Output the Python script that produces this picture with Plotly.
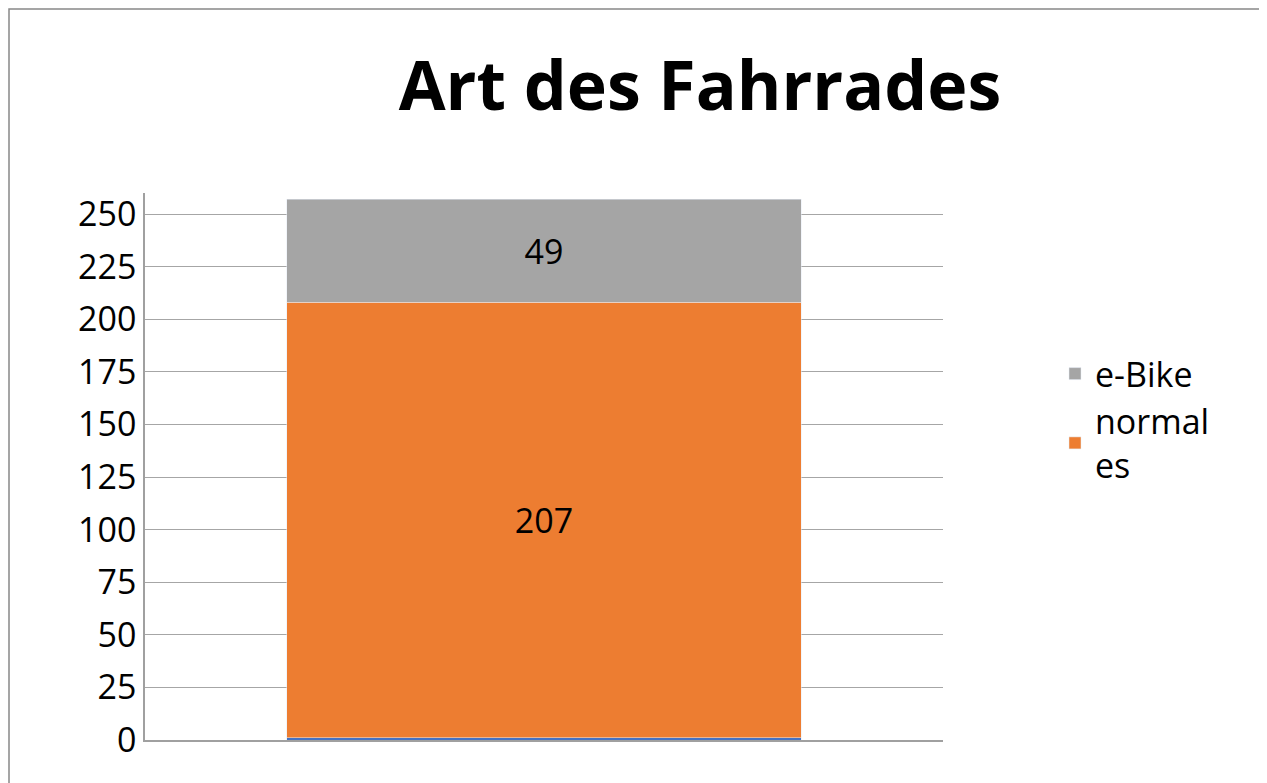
import plotly.graph_objects as go

categories = [""]
other = [1]
normales = [207]
ebike = [49]
tick_vals = [0, 25, 50, 75, 100, 125, 150, 175, 200, 225, 250]

# page body adds an 8px offset, so draw a slightly smaller figure
W, H = 1259, 775
L, R, T, B = 137, 324, 185, 43
pw, ph = W - L - R, H - T - B

fig = go.Figure()
fig.add_trace(go.Bar(x=categories, y=other, marker_color="#4472C4", width=0.645,
                     showlegend=False, hoverinfo="skip"))
fig.add_trace(go.Bar(x=categories, y=normales, name="normal<br>es", marker_color="#ED7D31",
                     width=0.645, text=normales, textposition="inside",
                     insidetextanchor="middle", textfont=dict(size=34, color="black")))
fig.add_trace(go.Bar(x=categories, y=ebike, name="e-Bike", marker_color="#A5A5A5",
                     width=0.645, text=ebike, textposition="inside",
                     insidetextanchor="middle", textfont=dict(size=34, color="black")))

fig.update_layout(
    barmode="stack",
    width=W, height=H,
    margin=dict(l=L, r=R, t=T, b=B),
    paper_bgcolor="white", plot_bgcolor="white",
    font=dict(family="Open Sans", size=34, color="black"),
    title=dict(text="<b>Art des Fahrrades</b>", x=692 / W, xanchor="center",
               y=1 - 78 / H, yanchor="middle", font=dict(size=68)),
    legend=dict(x=1 + 112 / pw, xanchor="left", y=1 - (337 - T) / ph, yanchor="top",
                traceorder="reversed", font=dict(size=34), tracegroupgap=55,
                itemwidth=30),
    uniformtext=dict(minsize=20, mode="show"),
    shapes=[dict(type="rect", xref="paper", yref="paper",
                 x0=-(L - 1) / pw, x1=1 + (R + 6) / pw,
                 y0=-(B + 6) / ph, y1=1 + (T - 1) / ph,
                 line=dict(color="#888888", width=1.5))],
)
fig.update_xaxes(range=[-0.5, 0.5], showticklabels=False, showline=True,
                 linecolor="#A0A0A0", linewidth=1.5)
fig.update_yaxes(range=[0, 260], tickvals=tick_vals, showgrid=True,
                 gridcolor="#A6A6A6", gridwidth=1.2, showline=True,
                 linecolor="#A0A0A0", linewidth=1.5, ticks="outside",
                 ticklen=0, zeroline=False)

fig.write_html("out.html")
